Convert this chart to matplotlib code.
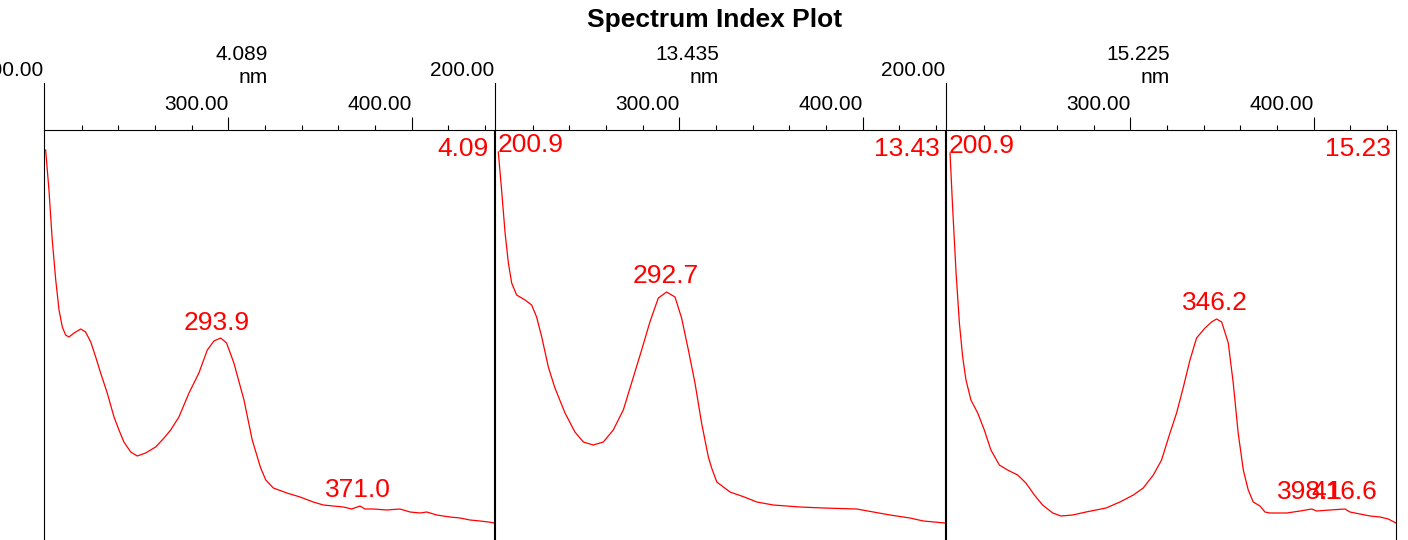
import numpy as np
import matplotlib.pyplot as plt

plt.rcParams['font.family'] = ['Liberation Sans', 'DejaVu Sans']

# Data for the three spectra (wavelength in nm, absorbance in arbitrary units)
wl1 = [200.4, 202.2, 204.0, 205.9, 207.7, 209.5, 211.3, 213.1, 215.9, 219.5, 222.2, 225.0,
       227.7, 230.4, 234.0, 237.7, 240.4, 243.1, 246.8, 250.4, 254.9, 260.4, 265.0, 268.6,
       273.1, 278.6, 284.0, 288.6, 292.2, 295.9, 299.1, 303.1, 308.6, 313.1, 317.7, 320.5,
       324.6, 332.0, 339.2, 346.4, 351.9, 357.3, 362.8, 367.4, 371.9, 374.6, 379.2, 386.5,
       393.7, 399.2, 404.6, 408.3, 413.7, 421.0, 426.5, 431.9, 437.4, 441.9, 445.5]
ab1 = [390, 350, 300, 260, 230, 213, 205, 203, 207, 211, 208, 198,
       183, 167, 147, 123, 110, 98, 88, 84, 87, 93, 102, 110,
       123, 147, 167, 190, 199, 202, 197, 177, 140, 100, 72, 60,
       52, 47, 43, 38, 35, 34, 33, 31, 34, 31, 31, 30,
       31, 28, 27, 28, 25, 23, 22, 20, 19, 18, 17]

wl2 = [201.3, 203.1, 205.0, 206.8, 208.6, 211.3, 215.9, 219.5, 222.2, 225.0, 228.6, 232.2,
       237.7, 243.1, 247.7, 253.1, 258.6, 264.0, 269.5, 274.0, 279.5, 284.0, 288.6, 293.1,
       297.7, 301.3, 305.0, 308.6, 312.2, 315.9, 317.7, 320.5, 324.1, 327.7, 335.5, 342.3,
       351.3, 365.9, 378.6, 396.8, 405.9, 415.0, 425.9, 433.2, 445.0]
ab2 = [388, 350, 307, 277, 257, 245, 240, 235, 223, 203, 173, 152,
       127, 108, 98, 95, 98, 110, 130, 157, 190, 218, 242, 248,
       243, 222, 190, 157, 117, 83, 72, 58, 53, 48, 43, 38,
       35, 33, 32, 31, 28, 25, 22, 19, 17]

wl3 = [201.7, 203.1, 205.0, 206.8, 208.6, 210.4, 213.1, 216.8, 220.4, 224.0, 228.6, 233.1,
       238.6, 243.1, 247.7, 252.2, 257.7, 262.2, 268.6, 275.9, 286.8, 294.4, 301.7, 307.1,
       312.6, 317.1, 321.7, 325.3, 329.0, 332.6, 336.2, 340.8, 344.4, 347.1, 349.9, 353.5,
       356.2, 358.9, 361.7, 364.4, 367.1, 370.8, 373.5, 376.2, 378.1, 385.4, 392.7, 399.0,
       401.7, 409.0, 417.2, 419.9, 425.4, 430.9, 436.3, 440.8, 445.0]
ab3 = [387, 333, 267, 217, 183, 160, 140, 127, 110, 90, 75, 70,
       65, 57, 45, 35, 27, 24, 25, 28, 32, 38, 45, 52,
       65, 80, 107, 127, 153, 180, 202, 212, 218, 221, 218, 197,
       157, 107, 70, 50, 38, 34, 28, 27, 27, 27, 29, 31,
       29, 30, 31, 28, 26, 24, 23, 21, 17]

# Retention times and peak labels
times = ['4.089', '13.435', '15.225']
time_short = ['4.09', '13.43', '15.23']
start_label = [False, True, True]
peaks = [[293.9, 371.0], [292.7], [346.2, 398.1, 416.6]]

wls = [wl1, wl2, wl3]
abs_ = [ab1, ab2, ab3]

fig = plt.figure(figsize=(14.08, 5.4), dpi=100)
W, H = 1408, 540
lefts = [44, 495, 946]

for i in range(3):
    ax = fig.add_axes([lefts[i] / W, 0, 450 / W, 410 / H])
    ax.plot(wls[i], abs_[i], color='red', lw=0.9)
    ax.set_xlim(199.5, 445)
    ax.set_ylim(0, 410)
    ax.set_yticks([])

    # x axis on top, labels end at the tick
    ax.xaxis.tick_top()
    ax.set_xticks([300, 400])
    ax.set_xticklabels(['300.00', '400.00'], ha='right')
    ax.set_xticks(np.arange(220, 445, 20), minor=True)
    ax.tick_params(axis='x', which='major', length=9.4, width=0.8, pad=2, labelsize=15)
    ax.tick_params(axis='x', which='minor', length=3.6, width=0.8)
    ax.spines['bottom'].set_visible(False)
    for s in ['top', 'left', 'right']:
        ax.spines[s].set_linewidth(0.8)

    # tall line at the left edge with the 200.00 label
    ax.plot([0, 0], [1, 1 + 47 / 410], color='k', lw=0.8, transform=ax.transAxes, clip_on=False)
    ax.text(-1 / 450, 1 + 54 / 410, '200.00', ha='right', va='baseline', fontsize=15,
            transform=ax.transAxes)

    # time and unit
    ax.text(0.498, 1 + 70 / 410, times[i], ha='right', va='baseline', fontsize=15,
            transform=ax.transAxes)
    ax.text(0.498, 1 + 47 / 410, 'nm', ha='right', va='baseline', fontsize=15,
            transform=ax.transAxes)

    # red labels
    ax.text(1 - 5 / 450, 384 / 410, time_short[i], ha='right', va='baseline', fontsize=19,
            color='red', transform=ax.transAxes)
    if start_label[i]:
        ax.text(200.9, abs_[i][0], '200.9', ha='left', va='baseline', fontsize=19, color='red')
    for p in peaks[i]:
        y = np.interp(p, wls[i], abs_[i])
        ax.text(p, y + 10, '%.1f' % p, ha='center', va='baseline', fontsize=19, color='red')

fig.text(714.5 / W, 1 - 27 / H, 'Spectrum Index Plot', ha='center', va='baseline',
         fontsize=19, fontweight='bold')

plt.savefig('out.png', dpi=100)
